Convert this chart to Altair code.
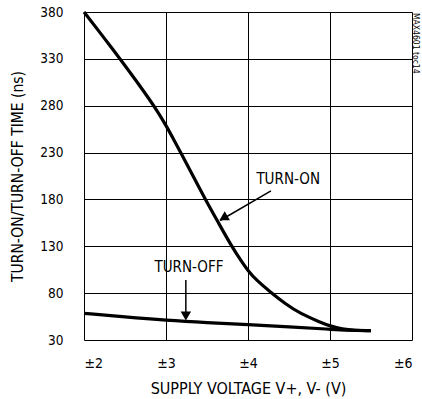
import altair as alt
import pandas as pd

FONT = "Liberation Sans Narrow, DejaVu Sans Condensed, Arial Narrow, sans-serif"

# Turn-on curve
on_v = [2.0, 2.2, 2.44, 2.65, 2.8, 2.9, 3.0, 3.1, 3.18, 3.33, 3.48, 3.64, 3.80, 3.92, 4.0, 4.1,
        4.29, 4.45, 4.64, 4.88, 5.0, 5.15, 5.3, 5.5]
on_t = [380, 357.5, 330, 305, 286.5, 273.5, 259, 243, 230, 205, 180, 155, 130, 114, 104, 94,
        80, 69, 58, 49, 45, 41.5, 40.2, 40]
# Turn-off curve
off_v = [2.0, 2.5, 3.0, 3.5, 4.0, 4.5, 5.0, 5.2, 5.5]
off_t = [58.5, 54.5, 51, 48.5, 46.5, 44, 41.5, 40.3, 40]

x_ticks = [2, 3, 4, 5, 6]
y_ticks = [30, 80, 130, 180, 230, 280, 330, 380]

# annotations
label_text = ["TURN-ON", "TURN-OFF"]
label_v = [4.49, 3.28]
label_t = [202, 108]
arrow_v1 = [4.28, 3.242]
arrow_t1 = [189.2, 94]
arrow_v2 = [3.66, 3.242]
arrow_t2 = [157.5, 53]
head_v = [3.70, 3.242]
head_t = [160.2, 55.6]
head_angle = [240, 180]

curves = pd.DataFrame(
    {"v": on_v + off_v, "t": on_t + off_t,
     "series": ["on"] * len(on_v) + ["off"] * len(off_v),
     "order": list(range(len(on_v))) + list(range(len(off_v)))}
)
labels = pd.DataFrame({"text": label_text, "v": label_v, "t": label_t})
arrows = pd.DataFrame({"v": arrow_v1, "t": arrow_t1, "v2": arrow_v2, "t2": arrow_t2})
heads = pd.DataFrame({"v": head_v, "t": head_t, "angle": head_angle})

xs = alt.Scale(domain=[2, 6], nice=False, zero=False)
ys = alt.Scale(domain=[30, 380], nice=False, zero=False)

xax = alt.Axis(values=x_ticks, labelExpr="'±' + datum.value", title="SUPPLY VOLTAGE V+, V- (V)",
               grid=True, gridColor="#000", gridWidth=1, gridOpacity=1, ticks=False, domain=False,
               labelPadding=16, titlePadding=10, labelFontSize=14, titleFontSize=16,
               labelFont=FONT, titleFont=FONT, labelColor="#000", titleColor="#000",
               titleFontWeight="normal")
yax = alt.Axis(values=y_ticks, title="TURN-ON/TURN-OFF TIME (ns)",
               grid=True, gridColor="#000", gridWidth=1, gridOpacity=1, ticks=False, domain=False,
               labelPadding=21, titlePadding=14, labelFontSize=13.5, titleFontSize=15.5,
               labelFont=FONT, titleFont=FONT, labelColor="#000", titleColor="#000",
               titleFontWeight="normal")

lines = alt.Chart(curves).mark_line(color="#000", strokeWidth=3.2, interpolate="basis").encode(
    x=alt.X("v:Q", scale=xs, axis=xax),
    y=alt.Y("t:Q", scale=ys, axis=yax),
    detail="series:N",
    order="order:Q",
)

text = alt.Chart(labels).mark_text(font=FONT, fontSize=15, color="#000", align="center",
                                   baseline="middle").encode(
    x=alt.X("v:Q", scale=xs), y=alt.Y("t:Q", scale=ys), text="text:N")

rules = alt.Chart(arrows).mark_rule(color="#000", strokeWidth=1.5).encode(
    x=alt.X("v:Q", scale=xs), y=alt.Y("t:Q", scale=ys), x2="v2:Q", y2="t2:Q")

tri = alt.Chart(heads).mark_point(shape="triangle-up", filled=True, color="#000", size=110,
                                  opacity=1).encode(
    x=alt.X("v:Q", scale=xs), y=alt.Y("t:Q", scale=ys), angle=alt.Angle("angle:Q", scale=None))

mark_id = alt.Chart(pd.DataFrame({"s": ["MAX4601 toc14"]})).mark_text(
    font=FONT, fontSize=8.5, color="#000", angle=90, align="left", baseline="middle").encode(
    x=alt.value(332), y=alt.value(1), text="s:N")

chart = alt.layer(lines, rules, tri, text, mark_id).properties(
    width=328, height=328,
    autosize=alt.AutoSizeParams(type="none"),
    padding={"left": 84, "top": 12, "right": 10, "bottom": 59},
).configure_view(stroke="#000", strokeWidth=3).configure(background="white")

chart.save("out.html", embed_options={"renderer": "svg", "actions": False})
